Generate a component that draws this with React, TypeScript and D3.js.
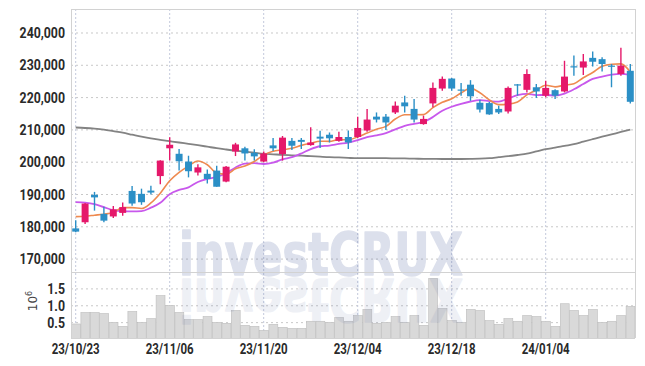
import { useEffect, useRef } from 'react'
import * as d3 from 'd3'

const W = 645, H = 366
const L = 71, R = 635, T = 9, MID = 272, B = 338

const dates = [
  '23/10/23', '23/10/24', '23/10/25', '23/10/26', '23/10/27', '23/10/30', '23/10/31',
  '23/11/01', '23/11/02', '23/11/03', '23/11/06', '23/11/07', '23/11/08', '23/11/09', '23/11/10',
  '23/11/13', '23/11/14', '23/11/15', '23/11/16', '23/11/17', '23/11/20', '23/11/21', '23/11/22',
  '23/11/23', '23/11/24', '23/11/27', '23/11/28', '23/11/29', '23/11/30',
  '23/12/01', '23/12/04', '23/12/05', '23/12/06', '23/12/07', '23/12/08', '23/12/11', '23/12/12',
  '23/12/13', '23/12/14', '23/12/15', '23/12/18', '23/12/19', '23/12/20', '23/12/21', '23/12/22',
  '23/12/26', '23/12/27', '23/12/28',
  '24/01/02', '24/01/03', '24/01/04', '24/01/05', '24/01/08', '24/01/09', '24/01/10', '24/01/11',
  '24/01/12', '24/01/15', '24/01/16', '24/01/17',
]

const opens = [
  179500, 181400, 189900, 184000, 183200, 184300, 191100, 190200, 191200, 195700,
  204300, 202600, 200200, 196800, 196400, 197400, 194000, 203300, 204300, 202900,
  200200, 205200, 202500, 206600, 206900, 205300, 207900, 208500, 206600, 207800,
  207800, 209800, 214100, 214100, 215400, 218500, 216500, 211800, 218200, 222800,
  225900, 222500, 224000, 218400, 218300, 216500, 215700, 224100, 222400, 223200,
  220600, 222300, 221900, 229700, 229300, 232300, 231900, 229900, 227300, 228300,
]
const highs = [
  182000, 187400, 190800, 186200, 186400, 187500, 192600, 191800, 192700, 200600,
  207700, 204100, 202000, 199400, 197700, 198900, 198800, 206000, 204800, 204000,
  203300, 207500, 208100, 207500, 207500, 210800, 209700, 209200, 209400, 209800,
  214100, 216500, 215400, 214900, 218800, 220600, 219600, 214400, 224700, 226500,
  226100, 224500, 225400, 219300, 218600, 217500, 223400, 224200, 228800, 224200,
  225200, 222600, 231400, 233000, 233500, 234300, 232500, 230400, 235400, 230400,
]
const lows = [
  178300, 180900, 185000, 181400, 182700, 183400, 186500, 186800, 190000, 193200,
  200500, 197400, 195300, 195900, 193400, 192400, 193800, 201900, 200500, 200500,
  200000, 203500, 200500, 203800, 204100, 205100, 204400, 206100, 206300, 204100,
  207500, 209400, 212300, 210000, 214900, 215400, 212300, 211600, 217000, 222100,
  222100, 220600, 219000, 215400, 214700, 214900, 215100, 220600, 221600, 219900,
  220100, 219600, 221600, 226800, 227000, 229600, 228100, 223200, 226800, 218200,
]
const closes = [
  178500, 187200, 189100, 181900, 185400, 186100, 187200, 187600, 190600, 200500,
  205400, 200300, 197200, 198400, 194800, 192400, 198600, 205500, 202700, 201800,
  202700, 204300, 207600, 205100, 206300, 206100, 207300, 207400, 207800, 206100,
  210600, 213200, 213200, 212300, 217500, 217300, 213200, 213400, 223000, 225800,
  222800, 222200, 220400, 216300, 214800, 215400, 223000, 223800, 227300, 221900,
  223000, 220600, 226500, 229400, 231200, 231100, 230400, 229600, 229900, 218700,
]

// moving averages as drawn (orange / purple / grey)
const maShort = [
  183130, 183280, 183590, 183900, 184420, 185940, 185940, 185640, 187380, 190400,
  194260, 196880, 198800, 200360, 199220, 196620, 196280, 197940, 198800, 200200,
  202260, 203400, 203820, 204300, 205200, 205880, 206480, 206440, 206980, 206940,
  207840, 209020, 210180, 211080, 213360, 214700, 214700, 214740, 216880, 218540,
  219640, 221440, 222840, 221500, 219300, 217820, 217980, 218660, 220860, 222280,
  223800, 223320, 223860, 224280, 226140, 227760, 229720, 230340, 230440, 227940,
]
const maMid = [
  187620, 187460, 187000, 186070, 185140, 184830, 184770, 184830, 185910, 187410,
  190100, 191410, 192220, 193870, 194810, 195440, 196580, 198370, 199580, 199710,
  199440, 199840, 200880, 201550, 202700, 204070, 204940, 205130, 205640, 206070,
  206860, 207750, 208310, 209030, 210150, 211270, 211860, 212460, 213980, 215950,
  217170, 218070, 218790, 219190, 218920, 218730, 219710, 220750, 221180, 220790,
  220810, 220650, 221260, 222570, 224210, 225780, 226520, 227100, 227360, 227040,
]
const maLong = [
  210740, 210590, 210370, 210060, 209600, 209130, 208510, 207890, 207340, 206900,
  206500, 206100, 205670, 205260, 204800, 204330, 203930, 203560, 203250, 202940,
  202630, 202450, 202260, 202140, 202010, 201860, 201700, 201550, 201460, 201330,
  201240, 201240, 201240, 201240, 201180, 201150, 201080, 201050, 201020, 200990,
  200990, 200990, 201020, 201080, 201240, 201550, 201860, 202230, 202630, 203310,
  204020, 204490, 205050, 205570, 206350, 207120, 207890, 208610, 209350, 210060,
]

// volume in millions of shares
const volumes = [
  0.46, 0.80, 0.80, 0.77, 0.51, 0.39, 0.83, 0.51, 0.62, 1.30,
  1.01, 0.80, 0.59, 0.59, 0.68, 0.51, 0.48, 0.86, 0.42, 0.39,
  0.27, 0.45, 0.36, 0.33, 0.33, 0.54, 0.54, 0.51, 0.65, 0.54,
  0.71, 0.89, 0.48, 0.51, 0.68, 0.51, 0.71, 0.42, 1.81, 0.92,
  0.56, 0.51, 0.89, 0.86, 0.56, 0.45, 0.62, 0.54, 0.71, 0.68,
  0.54, 0.39, 1.06, 0.86, 0.71, 0.89, 0.51, 0.54, 0.71, 0.98,
]

const priceTicks = [170000, 180000, 190000, 200000, 210000, 220000, 230000, 240000]
const volTicks = [0.5, 1.0, 1.5]
const dateTicks = ['23/10/23', '23/11/06', '23/11/20', '23/12/04', '23/12/18', '24/01/04']

const UP = '#e5186a', DOWN = '#2b8fc6'
const FONT = 'Roboto, "Noto Sans", sans-serif'

export default function App() {
  const ref = useRef<SVGSVGElement>(null)

  useEffect(() => {
    if (!ref.current) return
    const svg = d3.select(ref.current)
    svg.selectAll('*').remove()

    const idx = d3.range(dates.length)
    const x = d3.scaleBand<number>().domain(idx).range([L, R]).padding(0)
    const bw = x.bandwidth()
    const cx = (i: number) => (x(i) as number) + bw / 2
    const y = d3.scaleLinear().domain([166000, 247430]).range([MID, T])
    const yv = d3.scaleLinear().domain([0, 2]).range([339.5, MID])

    svg.append('defs').append('clipPath').attr('id', 'plotclip')
      .append('rect').attr('x', L).attr('y', T).attr('width', R - L).attr('height', B - T)

    // grid
    svg.append('g').selectAll('line').data(priceTicks).join('line')
      .attr('x1', L).attr('x2', R)
      .attr('y1', d => y(d)).attr('y2', d => y(d))
      .attr('stroke', '#c8c8c8').attr('stroke-dasharray', '2,3')
    svg.append('g').selectAll('line').data(volTicks).join('line')
      .attr('x1', L).attr('x2', R)
      .attr('y1', d => yv(d)).attr('y2', d => yv(d))
      .attr('stroke', '#c8c8c8').attr('stroke-dasharray', '2,3')
    svg.append('g').selectAll('line').data(dateTicks).join('line')
      .attr('x1', d => cx(dates.indexOf(d))).attr('x2', d => cx(dates.indexOf(d)))
      .attr('y1', T).attr('y2', B)
      .attr('stroke', '#c3c9dc').attr('stroke-dasharray', '2,2')

    const plot = svg.append('g').attr('clip-path', 'url(#plotclip)')

    // volume bars
    plot.append('g').selectAll('rect').data(idx).join('rect')
      .attr('x', i => (x(i) as number) + 0.5).attr('width', bw - 0.5)
      .attr('y', i => yv(volumes[i])).attr('height', i => yv(0) - yv(volumes[i]))
      .attr('fill', '#d9d9d9').attr('stroke', '#bdbdbd').attr('stroke-width', 0.6)

    // moving averages
    const line = (vals: number[]) => d3.line<number>()
      .x(i => cx(i)).y(i => y(vals[i]))
      .curve(d3.curveMonotoneX)(idx)
    plot.append('path').attr('d', line(maLong)).attr('fill', 'none')
      .attr('stroke', '#838383').attr('stroke-width', 1.8)
    plot.append('path').attr('d', line(maMid)).attr('fill', 'none')
      .attr('stroke', '#c858ec').attr('stroke-width', 1.8)
    plot.append('path').attr('d', line(maShort)).attr('fill', 'none')
      .attr('stroke', '#ee8a50').attr('stroke-width', 1.6)

    // candles
    const cg = plot.append('g').selectAll('g').data(idx).join('g')
    const col = (i: number) => closes[i] >= opens[i] ? UP : DOWN
    cg.append('line')
      .attr('x1', i => cx(i)).attr('x2', i => cx(i))
      .attr('y1', i => y(highs[i])).attr('y2', i => y(lows[i]))
      .attr('stroke', col).attr('stroke-width', 1.4)
    const body = bw * 0.74
    cg.append('rect')
      .attr('x', i => cx(i) - body / 2).attr('width', body)
      .attr('y', i => y(Math.max(opens[i], closes[i])))
      .attr('height', i => Math.max(1.2, Math.abs(y(opens[i]) - y(closes[i]))))
      .attr('fill', col)

    // watermark + reflection
    const wm = svg.append('g').attr('pointer-events', 'none')
    const wmText = (g: d3.Selection<SVGGElement, unknown, null, undefined>) => g.append('text')
      .attr('x', 179).attr('y', 275)
      .attr('textLength', 284).attr('lengthAdjust', 'spacingAndGlyphs')
      .attr('font-family', '"DejaVu Sans", "Liberation Sans", sans-serif')
      .attr('font-weight', 700).attr('font-size', 58)
      .attr('fill', '#4a5f9e').attr('stroke', '#4a5f9e')
      .attr('stroke-width', 1.5).attr('stroke-linejoin', 'round')
      .text('investCRUX')
    wmText(wm.append('g').attr('opacity', 0.19))
    wmText(wm.append('g').attr('opacity', 0.09).attr('transform', 'translate(0,554) scale(1,-1)'))

    // frame
    const frame = svg.append('g').attr('stroke', '#d2d2d2').attr('stroke-width', 1)
    frame.append('line').attr('x1', L).attr('x2', R).attr('y1', T + 0.5).attr('y2', T + 0.5)
    frame.append('line').attr('x1', L).attr('x2', R).attr('y1', MID + 0.5).attr('y2', MID + 0.5)
    frame.append('line').attr('x1', L).attr('x2', R).attr('y1', B + 0.5).attr('y2', B + 0.5)
    frame.append('line').attr('x1', L + 0.5).attr('x2', L + 0.5).attr('y1', T).attr('y2', B)
    frame.append('line').attr('x1', R + 0.5).attr('x2', R + 0.5).attr('y1', T).attr('y2', B)

    // axis labels
    const fmt = d3.format(',')
    svg.append('g').selectAll('text').data(priceTicks).join('text')
      .attr('transform', d => `translate(65,${y(d)}) scale(0.88,1)`)
      .attr('dy', '0.36em').attr('text-anchor', 'end')
      .attr('font-family', FONT).attr('font-weight', 700).attr('font-size', 14)
      .attr('fill', '#2a2a2a')
      .text(d => fmt(d))
    svg.append('g').selectAll('text').data(volTicks).join('text')
      .attr('transform', d => `translate(65,${yv(d)}) scale(0.88,1)`)
      .attr('dy', '0.36em').attr('text-anchor', 'end')
      .attr('font-family', FONT).attr('font-weight', 700).attr('font-size', 14)
      .attr('fill', '#2a2a2a')
      .text(d => d.toFixed(1))
    svg.append('g').selectAll('text').data(dateTicks).join('text')
      .attr('transform', d => `translate(${cx(dates.indexOf(d))},354) scale(0.82,1)`)
      .attr('text-anchor', 'middle')
      .attr('font-family', FONT).attr('font-weight', 700).attr('font-size', 14)
      .attr('fill', '#2a2a2a')
      .text(d => d)

    const unit = svg.append('text')
      .attr('transform', 'translate(37,301) rotate(-90)')
      .attr('text-anchor', 'middle')
      .attr('font-family', '"DejaVu Sans", sans-serif').attr('font-size', 12)
      .attr('fill', '#444')
    unit.append('tspan').text('10')
    unit.append('tspan').attr('dy', -5).attr('font-size', 8).text('6')
  }, [])

  return (
    <svg ref={ref} width={W} height={H}
      style={{ position: 'absolute', left: 0, top: 0, background: '#fff' }} />
  )
}
